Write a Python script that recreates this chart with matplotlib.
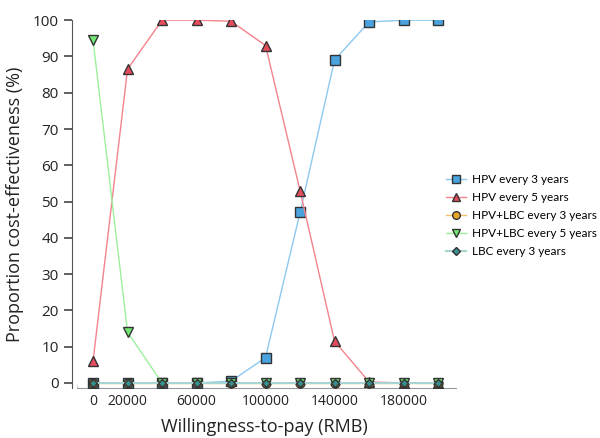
import matplotlib.pyplot as plt
from matplotlib.ticker import FixedLocator, NullFormatter

plt.rcParams['font.family'] = ['Open Sans', 'DejaVu Sans']

wtp = [0, 20000, 40000, 60000, 80000, 100000, 120000, 140000, 160000, 180000, 200000]

hpv3 = [0, 0, 0, 0, 0.5, 7, 47, 89, 99.5, 100, 100]
hpv5 = [6, 86.5, 100, 100, 99.7, 93, 53, 11.5, 0.3, 0, 0]
hpv_lbc3 = [0, 0, 0, 0, 0, 0, 0, 0, 0, 0, 0]
hpv_lbc5 = [94.5, 14, 0, 0, 0, 0, 0, 0, 0, 0, 0]
lbc3 = [0, 0, 0, 0, 0, 0, 0, 0, 0, 0, 0]

x_labels = [0, 20000, 60000, 100000, 140000, 180000]

fig = plt.figure(figsize=(6, 4.38), dpi=100)
ax = fig.add_axes([0.12, 0.114, 0.64, 0.84])

edge = '#333333'
ax.plot(wtp, hpv3, color='#8cc8ef', lw=1, marker='s', ms=6.5,
        mfc='#4aa3df', mec=edge, mew=1, label='HPV every 3 years', zorder=3)
ax.plot(wtp, hpv5, color='#f3838c', lw=1, marker='^', ms=7,
        mfc='#e44d5c', mec=edge, mew=1, label='HPV every 5 years', zorder=3)
ax.plot(wtp, hpv_lbc3, color='#f0c070', lw=1, marker='o', ms=6.5,
        mfc='#e8a628', mec=edge, mew=1, label='HPV+LBC every 3 years', zorder=3)
ax.plot(wtp, hpv_lbc5, color='#9cf09c', lw=1, marker='v', ms=7,
        mfc='#72e872', mec=edge, mew=1, label='HPV+LBC every 5 years', zorder=3)
ax.plot(wtp, lbc3, color='#a8d4d4', lw=1.5, marker='D', ms=4.5,
        mfc='#3a8e8e', mec=edge, mew=1, label='LBC every 3 years', zorder=4)

ax.set_xlim(-12200, 210400)
ax.set_ylim(-1.4, 100)

for s in ['top', 'right']:
    ax.spines[s].set_visible(False)
ax.spines['left'].set_color('#555555')
ax.spines['bottom'].set_color('#999999')
ax.spines['bottom'].set_bounds(-9300, 210400)

ax.set_yticks(range(0, 101, 10))
ax.tick_params(axis='y', direction='out', length=6, width=1.2, color='#444444',
               labelsize=11, labelcolor='#222222')
ax.xaxis.set_major_locator(FixedLocator(x_labels))
ax.xaxis.set_minor_locator(FixedLocator([-9300, 40000, 80000, 120000, 160000, 200000]))
ax.xaxis.set_minor_formatter(NullFormatter())
ax.tick_params(axis='x', which='major', direction='in', length=3, color='#cccccc',
               labelsize=10, labelcolor='#222222', pad=4)
ax.tick_params(axis='x', which='minor', direction='in', length=3, color='#cccccc')

ax.set_xlabel('Willingness-to-pay (RMB)', fontsize=13, labelpad=7, color='#222222')
ax.set_ylabel('Proportion cost-effectiveness (%)', fontsize=13, labelpad=6, color='#222222')

leg = fig.legend(loc='upper left', bbox_to_anchor=(0.743, 0.603), frameon=False,
                 prop={'family': ['Lato', 'DejaVu Sans'], 'size': 8.5},
                 handlelength=1.7, labelspacing=0.6, handletextpad=0.5,
                 borderpad=0, borderaxespad=0, markerscale=0.85)

fig.savefig('out.png', dpi=100)
